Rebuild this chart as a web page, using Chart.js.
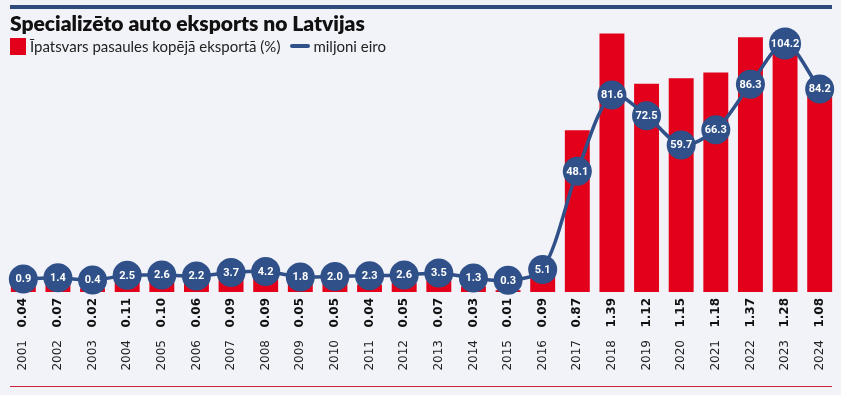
<!DOCTYPE html>
<html lang="lv">
<head>
<meta charset="utf-8">
<title>Specializēto auto eksports no Latvijas</title>
<script src="https://cdn.jsdelivr.net/npm/chart.js@4.4.1/dist/chart.umd.min.js"></script>
<style>
    html, body { margin: 0; padding: 0; background: #f2f3f9; }
    #wrap { position: relative; width: 841px; height: 395px; overflow: hidden; background: #f2f3f9; }
    #chart { position: absolute; left: 0; top: 0; }
    .top-bar { position: absolute; left: 10px; top: 5px; width: 822px; height: 4px; background: #2f4b7c; }
    .bottom-line { position: absolute; left: 10px; top: 386px; width: 822px; height: 1px; background: #c8243a; }
    .title {
        position: absolute; left: 10px; top: 10px; z-index: 2;
        font: 800 21px Lato, "Liberation Sans", sans-serif; color: #111;
    }
    .legend {
        position: absolute; left: 10px; top: 37px; z-index: 2; display: flex; align-items: center;
        font: 15px Lato, "Liberation Sans", sans-serif; color: #222;
    }
    .legend .box { width: 16px; height: 17px; background: #e2001a; margin-right: 4px; }
    .legend .ln { width: 20px; height: 4px; border-radius: 2px; background: #2f5088; margin: 0 3px 0 10px; }
</style>
</head>
<body>
<div id="wrap">
    <div class="top-bar"></div>
    <div class="title">Specializēto auto eksports no Latvijas</div>
    <div class="legend">
        <span class="box"></span><span>Īpatsvars pasaules kopējā eksportā (%)</span>
        <span class="ln"></span><span>miljoni eiro</span>
    </div>
    <canvas id="chart" width="841" height="395"></canvas>
    <div class="bottom-line"></div>
</div>
<script>
const years = ['2001', '2002', '2003', '2004', '2005', '2006', '2007', '2008', '2009', '2010', '2011', '2012',
    '2013', '2014', '2015', '2016', '2017', '2018', '2019', '2020', '2021', '2022', '2023', '2024'];
const sharePct = [0.04, 0.07, 0.02, 0.11, 0.10, 0.06, 0.09, 0.09, 0.05, 0.05, 0.04, 0.05,
    0.07, 0.03, 0.01, 0.09, 0.87, 1.39, 1.12, 1.15, 1.18, 1.37, 1.28, 1.08];
const millionsEur = [0.9, 1.4, 0.4, 2.5, 2.6, 2.2, 3.7, 4.2, 1.8, 2.0, 2.3, 2.6,
    3.5, 1.3, 0.3, 5.1, 48.1, 81.6, 72.5, 59.7, 66.3, 86.3, 104.2, 84.2];

const RED = '#e2001a';
const BLUE = '#2f5088';

// white numbers inside the line's circles
const pointLabels = {
    id: 'pointLabels',
    afterDatasetsDraw(chart) {
        const meta = chart.getDatasetMeta(0);
        const c = chart.ctx;
        c.save();
        c.fillStyle = '#ffffff';
        c.font = 'bold 11px Roboto, "Open Sans", sans-serif';
        c.textAlign = 'center';
        c.textBaseline = 'middle';
        meta.data.forEach((pt, i) => {
            c.fillText(millionsEur[i].toFixed(1), pt.x, pt.y + 0.5);
        });
        c.restore();
    }
};

// fixed axis heights, no extra side padding from the rotated labels
const fixAxis = h => s => {
    s.height = h;
    s.paddingLeft = 0;
    s.paddingRight = 0;
};

new Chart(document.getElementById('chart'), {
    data: {
        labels: years,
        datasets: [
            {
                type: 'line',
                label: 'miljoni eiro',
                data: millionsEur,
                yAxisID: 'yLine',
                borderColor: BLUE,
                borderWidth: 3.5,
                tension: 0.3,
                pointRadius: ctx => (millionsEur[ctx.dataIndex] >= 100 ? 16 : 14.5),
                pointBackgroundColor: BLUE,
                pointBorderWidth: 0,
                clip: false,
                order: 0
            },
            {
                type: 'bar',
                label: 'Īpatsvars pasaules kopējā eksportā (%)',
                data: sharePct,
                yAxisID: 'yBar',
                backgroundColor: RED,
                categoryPercentage: 1,
                barPercentage: 0.72,
                order: 1
            }
        ]
    },
    options: {
        responsive: false,
        animation: false,
        layout: { autoPadding: false, padding: { top: 30, left: 6, right: 4, bottom: 9 } },
        plugins: {
            legend: { display: false },
            tooltip: { enabled: false }
        },
        scales: {
            x: {
                position: 'bottom',
                offset: true,
                grid: { display: false, drawTicks: false },
                border: { display: false },
                ticks: {
                    callback: (v, i) => sharePct[i].toFixed(2),
                    minRotation: 90, maxRotation: 90,
                    padding: 6,
                    autoSkip: false,
                    color: '#111',
                    font: { family: '"DejaVu Sans", sans-serif', size: 12, weight: 'bold' }
                },
                afterFit: fixAxis(44)
            },
            xYears: {
                type: 'category',
                position: 'bottom',
                labels: years,
                offset: true,
                grid: { display: false, drawTicks: false },
                border: { display: false },
                ticks: {
                    minRotation: 90, maxRotation: 90,
                    padding: 4,
                    autoSkip: false,
                    color: '#222',
                    font: { family: '"DejaVu Sans", sans-serif', size: 12 }
                },
                afterFit: fixAxis(50)
            },
            yBar: {
                display: false,
                min: 0,
                max: 1.409
            },
            yLine: {
                display: false,
                min: -4.82,
                max: 110.1
            }
        }
    },
    plugins: [pointLabels]
});
</script>
</body>
</html>
